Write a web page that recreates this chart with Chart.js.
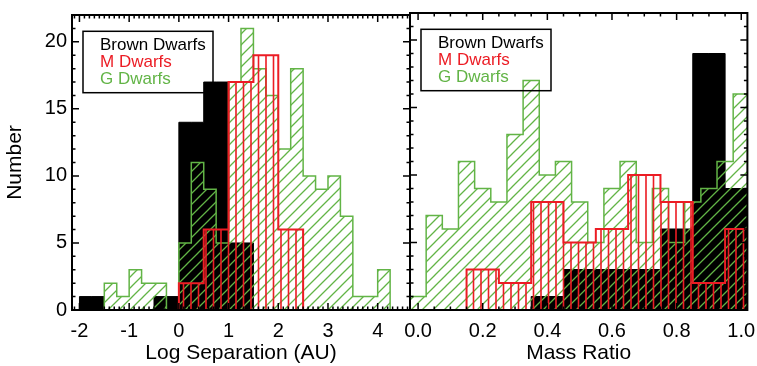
<!DOCTYPE html>
<html><head><meta charset="utf-8">
<script src="https://cdn.jsdelivr.net/npm/chart.js@4.4.1/dist/chart.umd.min.js"></script>
<style>
html,body{margin:0;padding:0;background:#fff;overflow:hidden;width:757px;height:366px;}
canvas{position:absolute;top:0;}
#c1{left:0;} #c2{left:380px;}
</style></head><body>
<canvas id="c1" width="415" height="366"></canvas>
<canvas id="c2" width="387" height="366"></canvas>
<script>
// ---------- data (histogram bin centres and counts) ----------
const seriesNames = ['Brown Dwarfs', 'M Dwarfs', 'G Dwarfs'];

// Left panel: log separation (AU)
const sepBinsBD   = [-2.25, -1.75, -1.25, -0.75, -0.25, 0.25, 0.75, 1.25, 1.75];
const sepCountsBD = [0, 1, 0, 0, 1, 14, 17, 5, 0];
const sepBinsM    = [-0.25, 0.25, 0.75, 1.25, 1.75, 2.25, 2.75];
const sepCountsM  = [0, 2, 6, 17, 19, 6, 0];
const sepBinsG    = [-1.625, -1.375, -1.125, -0.875, -0.625, -0.375, -0.125, 0.125, 0.375, 0.625, 0.875,
                     1.125, 1.375, 1.625, 1.875, 2.125, 2.375, 2.625, 2.875, 3.125, 3.375, 3.625, 3.875, 4.125, 4.375];
const sepCountsG  = [0, 2, 1, 3, 2, 2, 0, 5, 11, 9, 5, 17, 21, 18, 16, 12, 18, 10, 9, 10, 7, 1, 1, 3, 0];

// Right panel: mass ratio
const qBinsBD   = [0.3, 0.4, 0.5, 0.6, 0.7, 0.8, 0.9, 1.0, 1.1];
const qCountsBD = [0, 1, 3, 3, 3, 6, 19, 9, 0];
const qBinsM    = [0.1, 0.2, 0.3, 0.4, 0.5, 0.6, 0.7, 0.8, 0.9, 1.0, 1.1];
const qCountsM  = [0, 3, 2, 8, 5, 6, 10, 8, 2, 6, 0];
const qBinsG    = [-0.05, 0.0, 0.05, 0.1, 0.15, 0.2, 0.25, 0.3, 0.35, 0.4, 0.45, 0.5, 0.55,
                   0.6, 0.65, 0.7, 0.75, 0.8, 0.85, 0.9, 0.95, 1.0, 1.05];
const qCountsG  = [0, 1, 7, 6, 11, 9, 8, 13, 17, 10, 11, 8, 5, 9, 11, 5, 9, 5, 8, 9, 11, 16, 0];

// Tick labels
const yTickValues   = [0, 5, 10, 15, 20];
const sepTickValues = [-2, -1, 0, 1, 2, 3, 4];
const sepTickLabels = ['-2', '-1', '0', '1', '2', '3', '4'];
const qTickValues   = [0, 0.2, 0.4, 0.6, 0.8, 1.0];
const qTickLabels   = ['0.0', '0.2', '0.4', '0.6', '0.8', '1.0'];

// ---------- styles ----------
const FONT = "'Liberation Sans', Arial, Helvetica, sans-serif";
const BLACK = '#000000', RED = '#ec1c24', GREEN = '#62b446';
const seriesColors = [BLACK, RED, GREEN];
Chart.defaults.font.family = FONT;
Chart.defaults.color = '#000';

function diagPattern(ctx, color) {
  const c = document.createElement('canvas'); c.width = 11; c.height = 11;
  const g = c.getContext('2d');
  g.strokeStyle = color; g.lineWidth = 1.3;
  g.beginPath();
  g.moveTo(0, 11); g.lineTo(11, 0);
  g.moveTo(-1, 1); g.lineTo(1, -1);
  g.moveTo(10, 12); g.lineTo(12, 10);
  g.stroke();
  return ctx.createPattern(c, 'repeat');
}
function vertPattern(ctx, color) {
  const c = document.createElement('canvas'); c.width = 15; c.height = 4;
  const g = c.getContext('2d');
  g.strokeStyle = color; g.lineWidth = 1.6;
  g.beginPath();
  g.moveTo(3.5, 0); g.lineTo(3.5, 4);
  g.moveTo(11, 0); g.lineTo(11, 4);
  g.stroke();
  return ctx.createPattern(c, 'repeat');
}

function hist(label, xs, ys, color, bg, order, width) {
  return {
    label, data: xs.map((x, i) => ({x, y: ys[i]})),
    stepped: 'middle', fill: 'origin', backgroundColor: bg,
    borderColor: color, borderWidth: width, pointRadius: 0, pointHoverRadius: 0,
    order, clip: 0
  };
}

function range(a, b, s) { const r = []; for (let v = a; v <= b + 1e-9; v += s) r.push(+v.toFixed(4)); return r; }

// inward ticks + frame, drawn through the chart's scales
const frameTicks = {
  id: 'frameTicks',
  afterDatasetsDraw(chart, args, o) {
    const {ctx, chartArea: a, scales} = chart;
    ctx.save();
    ctx.strokeStyle = '#000';
    ctx.lineWidth = 1.5;
    ctx.beginPath();
    const xs = scales.x, ys = scales.y;
    const put = (vals, len, horiz) => vals.forEach(v => {
      if (horiz) {
        const p = xs.getPixelForValue(v);
        if (p < a.left + 1 || p > a.right - 1) return;
        ctx.moveTo(p, a.bottom); ctx.lineTo(p, a.bottom - len);
        ctx.moveTo(p, a.top); ctx.lineTo(p, a.top + len);
      } else {
        const p = ys.getPixelForValue(v);
        if (p < a.top + 1 || p > a.bottom - 1) return;
        ctx.moveTo(a.left, p); ctx.lineTo(a.left + len, p);
        ctx.moveTo(a.right, p); ctx.lineTo(a.right - len, p);
      }
    });
    put(o.xMajor, 7, true); put(o.xMinor, 3.5, true);
    put(o.yMajor, 7, false); put(o.yMinor, 3.5, false);
    ctx.stroke();
    ctx.lineWidth = 2;
    ctx.strokeRect(a.left, a.top, a.right - a.left, a.bottom - a.top);
    ctx.restore();
  }
};

// boxed legend with coloured text
const boxLegend = {
  id: 'boxLegend',
  afterDraw(chart) {
    const {ctx, chartArea: a} = chart;
    ctx.save();
    ctx.lineWidth = 1.5; ctx.strokeStyle = '#000';
    ctx.strokeRect(a.left + 11, a.top + 16.3, 130, 61.4);
    ctx.font = '17px ' + FONT;
    ctx.textBaseline = 'alphabetic'; ctx.textAlign = 'left';
    seriesNames.forEach((n, i) => {
      ctx.fillStyle = seriesColors[i];
      ctx.fillText(n, a.left + 28, a.top + 35.3 + i * 17);
    });
    ctx.restore();
  }
};

function xScale(min, max, tickVals, tickLabels, title) {
  return {
    type: 'linear', min, max,
    grid: {display: false, drawTicks: false}, border: {display: false},
    afterBuildTicks: s => { s.ticks = tickVals.map(v => ({value: v})); },
    afterFit: s => { s.height = 56; },
    ticks: {font: {size: 20, lineHeight: 1}, color: '#000', padding: 11.5, maxRotation: 0, autoSkip: false,
            callback: (v, i) => tickLabels[i]},
    title: {display: true, text: title, color: '#000', font: {size: 21, lineHeight: 1}, padding: {top: 0, bottom: 2.2}}
  };
}

const yMinor = range(1, 22, 1).filter(v => v % 5 !== 0);

// ---------- left chart ----------
const ctx1 = document.getElementById('c1').getContext('2d');
new Chart(ctx1, {
  type: 'line',
  data: {datasets: [
    hist(seriesNames[0], sepBinsBD, sepCountsBD, BLACK, BLACK, 3, 1),
    hist(seriesNames[2], sepBinsG, sepCountsG, GREEN, diagPattern(ctx1, GREEN), 2, 1.5),
    hist(seriesNames[1], sepBinsM, sepCountsM, RED, vertPattern(ctx1, RED), 1, 2)
  ]},
  options: {
    responsive: false, animation: false, devicePixelRatio: 1,
    layout: {padding: {left: 0, top: 13, right: 5, bottom: 0}},
    events: [],
    plugins: {
      legend: {display: false}, tooltip: {enabled: false},
      frameTicks: {xMajor: sepTickValues, xMinor: range(-2.1, 4.6, 0.1).filter(v => Math.abs(v - Math.round(v)) > 1e-6),
                   yMajor: yTickValues, yMinor}
    },
    scales: {
      x: xScale(-2.15, 4.65, sepTickValues, sepTickLabels, 'Log Separation (AU)'),
      y: {
        min: 0, max: 22,
        grid: {display: false, drawTicks: false}, border: {display: false},
        afterBuildTicks: s => { s.ticks = yTickValues.map(v => ({value: v})); },
        afterFit: s => { s.width = 72; },
        ticks: {font: {size: 20, lineHeight: 1}, color: '#000', padding: 5},
        title: {display: true, text: 'Number', color: '#000', font: {size: 21, lineHeight: 1}, padding: {top: 5, bottom: 0}}
      }
    }
  },
  plugins: [frameTicks, boxLegend]
});

// ---------- right chart ----------
const ctx2 = document.getElementById('c2').getContext('2d');
new Chart(ctx2, {
  type: 'line',
  data: {datasets: [
    hist(seriesNames[0], qBinsBD, qCountsBD, BLACK, BLACK, 3, 1),
    hist(seriesNames[2], qBinsG, qCountsG, GREEN, diagPattern(ctx2, GREEN), 2, 1.5),
    hist(seriesNames[1], qBinsM, qCountsM, RED, vertPattern(ctx2, RED), 1, 2)
  ]},
  options: {
    responsive: false, animation: false, devicePixelRatio: 1,
    layout: {padding: {left: 30, top: 13, right: 19, bottom: 0}},
    events: [],
    plugins: {
      legend: {display: false}, tooltip: {enabled: false},
      frameTicks: {xMajor: qTickValues, xMinor: [0.05, 0.1, 0.15, 0.25, 0.3, 0.35, 0.45, 0.5, 0.55, 0.65, 0.7, 0.75, 0.85, 0.9, 0.95],
                   yMajor: yTickValues, yMinor}
    },
    scales: {
      x: xScale(-0.025, 1.019, qTickValues, qTickLabels, 'Mass Ratio'),
      y: {min: 0, max: 22, display: false}
    }
  },
  plugins: [frameTicks, boxLegend]
});
</script></body></html>
